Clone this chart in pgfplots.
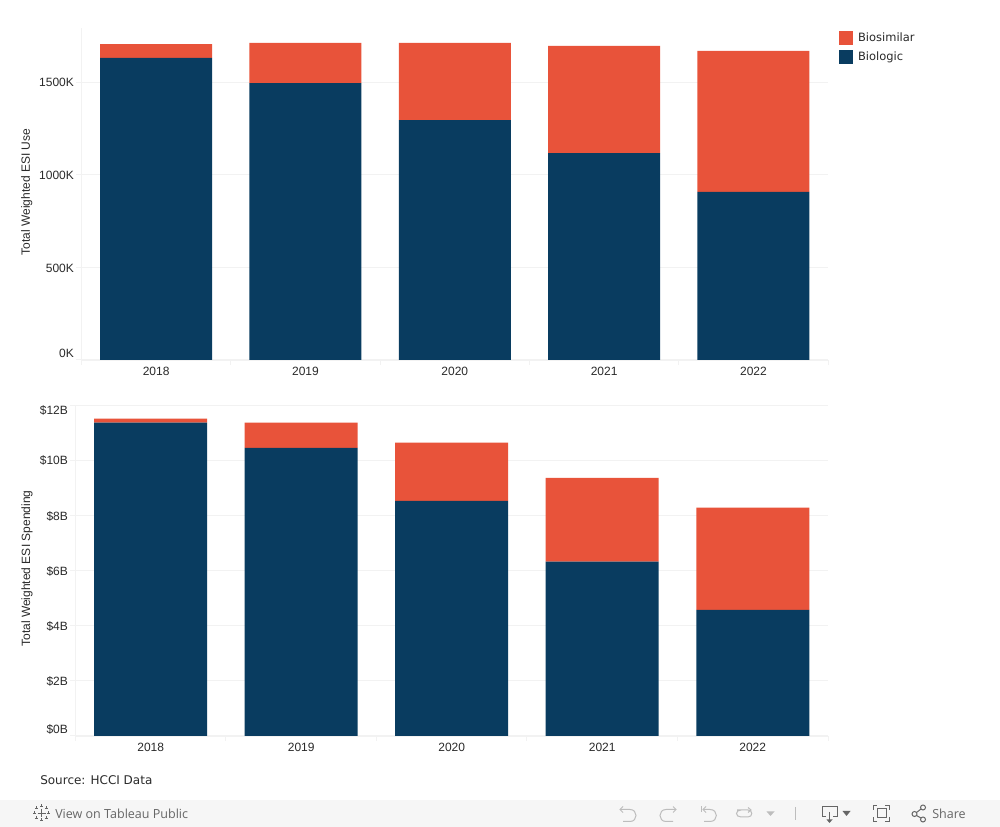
\documentclass[border=0pt]{standalone}
\usepackage{pgfplots}
\pgfplotsset{compat=1.18}
\usepackage{fontspec}
\setmainfont{Liberation Sans}
\newfontfamily\legfont{DejaVu Sans}
\newfontfamily\footfont{Open Sans}
\definecolor{navy}{HTML}{093C60}
\definecolor{orng}{HTML}{E8533A}
\definecolor{gridc}{HTML}{F2F2F2}
\definecolor{txt}{HTML}{2A2A2A}
\definecolor{band}{HTML}{F6F6F6}
\definecolor{icon}{HTML}{BDBDBD}
\definecolor{icond}{HTML}{666666}
\pgfplotsset{
  common/.style={
    scale only axis, ybar stacked,
    xmin=-0.5, xmax=4.5,
    xtick={0,1,2,3,4},
    xticklabels={2018,2019,2020,2021,2022},
    minor xtick={-0.5,0.5,1.5,2.5,3.5,4.5},
    axis x line*=bottom, axis y line*=left,
    axis line style={draw=gridc,-},
    ymajorgrids, grid style={draw=gridc,line width=0.75pt},
    major grid style={draw=gridc,line width=0.75pt},
    tick style={draw=gridc,line width=0.75pt},
    major x tick style={draw=none},
    minor tick length=3.5pt, major tick length=3.75pt,
    tick align=outside,
    tick label style={font=\fontsize{9}{10}\selectfont, text=txt},
    xticklabel style={yshift=2.3pt},
    yticklabel style={xshift=1.6pt,yshift=-0.6pt},
    enlargelimits=false, clip=true,
  },
}
\begin{document}
\begin{tikzpicture}
\begin{scope}[shift={(0,620.25pt)},x=0.75pt,y=-0.75pt]
\useasboundingbox (0,0) rectangle (1000,827);
\fill[white] (0,0) rectangle (1000,827);
\fill[band] (0,800) rectangle (1000,827);
\end{scope}

\begin{axis}[common,
  at={(61.1pt,350.25pt)}, anchor=south west,
  width=560pt, height=249pt,
  ymin=0, ymax=1792,
  bar width=84pt,
  ytick={0,500,1000,1500},
  yticklabels={\raisebox{11pt}{0K},500K,1000K,\raisebox{1.2pt}{1500K}},
  every axis y label/.style={at={(axis description cs:-0.0733,0.506)},rotate=90,anchor=center,font=\fontsize{9}{10}\selectfont,text=txt},
  ylabel={Total Weighted ESI Use},
  reverse legend,
  legend cell align=left,
  legend style={at={(axis description cs:1.0147,0.991)},anchor=north west,draw=none,fill=none,inner sep=0pt,outer sep=0pt,
    font=\legfont\fontsize{8.6}{10}\selectfont, text=txt,
    row sep=3.75pt, column sep=3.75pt, nodes={inner sep=0pt, outer sep=0pt}},
  legend image code/.code={\path[#1] (0,-5.25pt) rectangle (10.5pt,5.25pt);},
]
\addplot[fill=navy,draw=none] coordinates {(0,1630) (1,1495) (2,1295) (3,1117) (4,907)};
\addlegendentry{Biologic}
\addplot[fill=orng,draw=none] coordinates {(0,75) (1,216) (2,416) (3,578) (4,761)};
\addlegendentry{Biosimilar}
\end{axis}

\begin{axis}[common,
  at={(56.6pt,68.25pt)}, anchor=south west,
  width=564.4pt, height=248.2pt,
  ymin=0, ymax=12,
  bar width=84.75pt,
  ytick={0,2,4,6,8,10,12},
  yticklabels={\raisebox{11pt}{\$0B},\$2B,\$4B,\$6B,\$8B,\raisebox{1.2pt}{\$10B},\raisebox{-3.6pt}[6.6pt][0.6pt]{\$12B}},
  every axis y label/.style={at={(axis description cs:-0.0645,0.506)},rotate=90,anchor=center,font=\fontsize{9}{10}\selectfont,text=txt},
  ylabel={Total Weighted ESI Spending},
]
\addplot[fill=navy,draw=none] coordinates {(0,11.36) (1,10.45) (2,8.53) (3,6.32) (4,4.57)};
\addplot[fill=orng,draw=none] coordinates {(0,0.15) (1,0.91) (2,2.11) (3,3.04) (4,3.71)};
\end{axis}

\begin{scope}[shift={(0,620.25pt)},x=0.75pt,y=-0.75pt]
\node[anchor=west,inner sep=0pt,text=txt,font=\legfont\fontsize{9}{10}\selectfont] at (40,780) {Source: HCCI Data};
\node[anchor=west,inner sep=0pt,text=icond,font=\footfont\fontsize{9.4}{10}\selectfont] at (55,813.5) {View on Tableau Public};
\node[anchor=west,inner sep=0pt,text=icond,font=\footfont\fontsize{9.4}{10}\selectfont] at (932,813.5) {Share};
% tableau mark
\begin{scope}[icond,line width=0.5pt]
\draw (37.5,813) -- (45.5,813) (41.5,809) -- (41.5,817);
\draw (33,813) -- (36,813) (34.5,811.5) -- (34.5,814.5);
\draw (47,813) -- (50,813) (48.5,811.5) -- (48.5,814.5);
\draw (40,806) -- (43,806) (41.5,804.5) -- (41.5,807.5);
\draw (40,820) -- (43,820) (41.5,818.5) -- (41.5,821.5);
\draw (35,808) -- (38,808) (36.5,806.5) -- (36.5,809.5);
\draw (45,808) -- (48,808) (46.5,806.5) -- (46.5,809.5);
\draw (35,818) -- (38,818) (36.5,816.5) -- (36.5,819.5);
\draw (45,818) -- (48,818) (46.5,816.5) -- (46.5,819.5);
\end{scope}
% undo, redo, revert, refresh
\begin{scope}[icon,line width=0.75pt]
\draw (620,809.5) -- (630,809.5) .. controls (638,809.5) and (638,821.5) .. (630,821.5) -- (623,821.5);
\draw (623,806.5) -- (620,809.5) -- (623,812.5);
\draw (676,809.5) -- (666,809.5) .. controls (658,809.5) and (658,821.5) .. (666,821.5) -- (673,821.5);
\draw (673,806.5) -- (676,809.5) -- (673,812.5);
\draw (701,806.5) -- (701,812.5);
\draw (703,809.5) -- (710,809.5) .. controls (718.5,809.5) and (718.5,821.5) .. (710,821.5) -- (704,821.5);
\draw (706,806.5) -- (703,809.5) -- (706,812.5);
\draw (737,810) -- (748,810) .. controls (753,810) and (753,817) .. (748,817) -- (741,817) .. controls (735,817) and (735,810) .. (741,810);
\draw (748,807.5) -- (751,810) -- (748,812.5);
\fill (766.5,811.5) -- (774.5,811.5) -- (770.5,816) -- cycle;
\draw (795.5,807) -- (795.5,820);
\end{scope}
\begin{scope}[icond,line width=0.75pt]
% download
\draw (826,817) -- (822.5,817) -- (822.5,806.5) -- (837,806.5) -- (837,817) -- (833,817);
\draw (829.5,812) -- (829.5,820);
\fill (826.5,819.5) -- (832.5,819.5) -- (829.5,823) -- cycle;
\fill (842.5,811) -- (850.5,811) -- (846.5,816) -- cycle;
% fullscreen
\draw (877,808.5) rectangle (886,818);
\draw (873,810) -- (873,806) -- (877,806) (885,806) -- (889,806) -- (889,810) (889,817) -- (889,821.5) -- (885,821.5) (877,821.5) -- (873,821.5) -- (873,817);
% share
\draw (914.5,814) circle[radius=2.5] (923,807.5) circle[radius=2.5] (923,819.5) circle[radius=2.5];
\draw (916.5,812.5) -- (921,809) (916.5,815.5) -- (921,818);
\end{scope}
\end{scope}
\end{tikzpicture}
\end{document}
